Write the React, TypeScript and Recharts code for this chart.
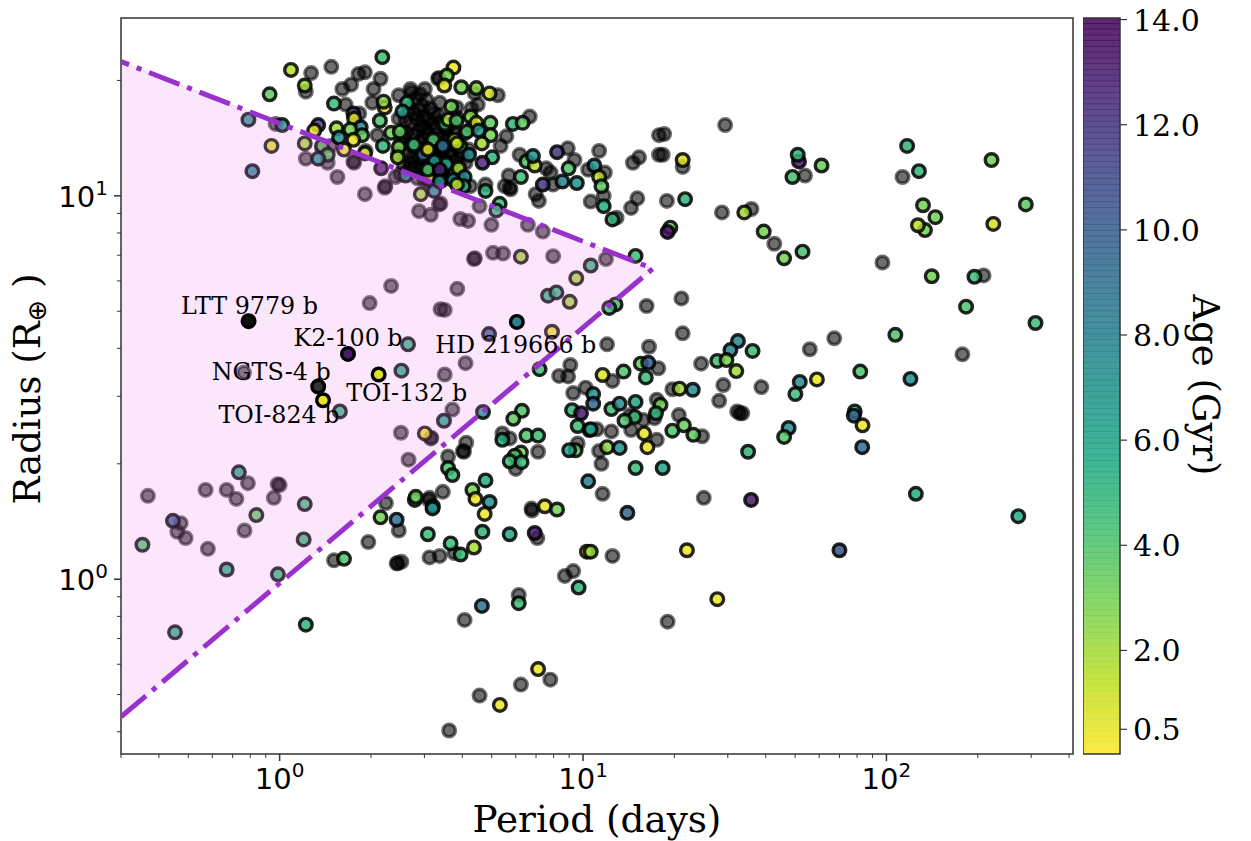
import React from "react";
import {
  Area,
  ComposedChart,
  Line,
  ReferenceArea,
  Scatter,
  XAxis,
  YAxis,
} from "recharts";

// planets without an age estimate, drawn grey
const grayPeriods = [
  1.27, 1.48, 1.82, 1.91, 1.72, 1.61, 2.15, 2.04, 1.22, 2.02,
  2.47, 2.7, 3.01, 3.33, 1.65, 1.83, 2.47, 2.1, 0.97, 1.22,
  1.44, 1.55, 1.91, 2.22, 2.23, 2.41, 2.5, 2.88, 3.15, 3.35,
  1.92, 1.38, 1.47, 1.75, 1.76, 3.35, 3.37, 3.83, 4.5, 4.29,
  4.4, 5.24, 5.59, 5.35, 6.67, 6.18, 5.69, 5.52, 5.73, 5.77,
  4.77, 4.25, 7.56, 7.82, 7.97, 8.91, 9.37, 10.4, 11.3, 11.8,
  14.6, 15.3, 17.8, 17.8, 6.98, 7.15, 10.6, 11.7, 14.4, 15.1,
  12.9, 3.94, 4.18, 4.56, 4.99, 6.58, 7.37, 4.37, 4.4, 5.05,
  5.45, 7.97, 11.9, 3.39, 18.5, 29.4, 18.3, 21.3, 53.9, 113,
  18.9, 28.7, 35.9, 42.7, 97, 209, 21.1, 16.2, 21.3, 67.3,
  55.9, 178, 16.5, 17.7, 24.5, 29.0, 38.7, 19.7, 12.0, 9.08,
  8.34, 8.93, 12.5, 9.28, 10.2, 28.1, 17.5, 32.2, 32.9, 33.5,
  20.7, 14.3, 15.8, 14.4, 17.2, 12.4, 11.1, 17.5, 24.7, 5.42,
  5.73, 4.12, 4.02, 4.05, 7.11, 11.3, 9.6, 11.5, 6.0, 3.59,
  3.45, 11.6, 25.0, 3.12, 6.76, 3.85, 3.5, 4.1, 3.5, 3.71,
  3.16, 7.07, 6.79, 3.37, 3.12, 3.77, 12.5, 8.71, 9.28, 6.14,
  4.07, 19.0, 4.56, 6.24, 7.8, 3.62, 0.472, 0.46, 0.49, 0.58,
  0.766, 2.24, 2.47, 1.96, 1.51, 2.43, 2.52, 2.45, 3.1, 2.33,
  1.98, 3.39, 0.763, 2.51, 3.15, 2.66, 0.57, 0.669, 0.786, 0.72,
  0.957, 0.368, 1.0, 0.985,
  // dense clump around 3 days, read as a blob
  2.72, 2.8, 2.9, 2.95, 3.05, 3.14, 2.66, 2.78, 2.88, 3.0,
  3.1, 3.22, 3.35, 2.6, 2.72, 2.84, 2.93, 3.03, 3.15, 3.27,
  3.4, 3.52, 2.62, 2.76, 2.87, 2.97, 3.08, 3.18, 3.3, 3.43,
  3.6, 2.7, 2.83, 2.92, 3.02, 3.12, 3.24, 3.36, 3.5, 2.6,
  2.74, 2.88, 2.99, 3.1, 3.2, 3.33, 3.46, 2.8, 2.94, 3.06,
  3.2, 3.36, 2.66, 3.0, 3.12, 2.85, 3.28, 2.5, 2.45, 2.56,
  3.7, 3.8, 3.9, 3.7, 3.85, 4.05, 4.2, 4.3, 3.42, 3.55,
  3.68, 3.82, 3.96, 3.3, 3.5, 3.66, 3.18, 3.38, 3.6, 3.78,
  2.95, 3.1, 3.26, 3.44, 4.1, 3.95, 2.58, 2.7,
];
const grayRadii = [
  20.9, 21.7, 20.8, 21.0, 19.5, 19.0, 20.2, 19.0, 18.7, 17.5,
  18.3, 19.0, 19.0, 20.2, 17.3, 16.4, 15.9, 14.4, 15.4, 12.5,
  12.2, 11.2, 10.1, 10.5, 10.6, 11.2, 11.4, 9.12, 8.92, 9.5,
  13.1, 13.3, 13.5, 12.3, 12.2, 20.3, 17.5, 17.0, 17.3, 16.9,
  18.5, 18.3, 14.3, 13.5, 16.1, 12.8, 11.3, 10.6, 10.5, 10.4,
  10.7, 10.6, 11.8, 11.5, 10.7, 13.3, 12.4, 11.7, 13.1, 11.5,
  12.2, 12.6, 14.4, 12.8, 10.1, 9.7, 9.66, 10.0, 9.3, 9.85,
  8.77, 8.7, 8.6, 9.4, 8.4, 8.4, 8.07, 6.84, 6.87, 7.1,
  7.07, 6.96, 6.84, 9.55, 14.5, 15.3, 12.8, 11.9, 11.3, 11.2,
  9.7, 9.05, 9.24, 7.5, 6.7, 6.2, 5.4, 5.16, 4.38, 4.25,
  3.98, 3.86, 4.04, 3.55, 3.65, 3.21, 3.17, 3.13, 4.1, 3.62,
  3.39, 3.38, 3.29, 3.06, 3.16, 2.92, 2.94, 2.74, 2.71, 2.71,
  2.68, 2.68, 2.6, 2.45, 2.63, 2.43, 2.46, 2.31, 2.36, 2.4,
  2.33, 2.27, 2.16, 2.15, 2.15, 2.16, 2.26, 2.0, 1.94, 2.09,
  1.69, 1.67, 1.63, 1.63, 1.53, 5.72, 5.04, 3.66, 3.42, 2.77,
  2.34, 1.28, 1.51, 1.15, 1.14, 1.17, 1.15, 1.02, 1.05, 0.91,
  0.783, 0.775, 0.497, 0.531, 0.547, 0.403, 1.4, 1.33, 1.28, 1.2,
  1.34, 1.58, 1.34, 1.25, 1.12, 1.1, 1.11, 1.1, 1.61, 5.82,
  5.25, 5.06, 3.46, 2.41, 2.33, 2.05, 1.71, 1.71, 1.78, 1.62,
  1.63, 1.65, 1.76, 1.77,
  18.6, 17.9, 18.4, 17.2, 17.8, 16.9, 16.9, 16.4, 16.7, 16.1,
  15.8, 16.4, 16.2, 15.7, 15.4, 15.9, 15.2, 15.0, 15.4, 15.1,
  15.6, 15.0, 14.6, 14.4, 14.8, 14.2, 14.5, 13.9, 14.4, 14.1,
  14.3, 13.6, 13.3, 13.8, 13.4, 13.1, 13.6, 13.0, 13.4, 12.8,
  12.6, 12.5, 12.9, 12.2, 12.7, 12.4, 12.6, 11.9, 11.7, 11.5,
  11.9, 11.7, 11.7, 11.0, 10.9, 11.1, 11.1, 13.7, 12.9, 11.9,
  12.8, 13.5, 12.0, 15.4, 16.0, 14.5, 13.2, 15.1, 11.4, 12.0,
  11.6, 12.4, 13.0, 12.6, 11.2, 13.0, 12.1, 12.2, 14.0, 14.6,
  12.0, 11.4, 11.6, 11.0, 12.2, 11.0, 14.2, 12.2,
];

// planets with an age, coloured through the colour bar
const agedPeriods = [
  2.18, 1.09, 1.21, 0.927, 1.51, 2.22, 2.2, 2.63, 2.54, 1.75,
  1.76, 2.14, 1.34, 1.3, 1.02, 0.789, 1.54, 1.85, 1.71, 1.57,
  1.87, 1.75, 2.33, 2.49, 2.19, 2.47, 2.77, 3.21, 2.97, 1.91,
  2.45, 1.63, 1.21, 1.38, 1.44, 1.34, 0.94, 0.813, 2.16, 2.6,
  3.09, 2.92, 3.23, 3.74, 3.56, 3.49, 3.97, 4.45, 4.92, 3.68,
  3.51, 3.6, 3.83, 4.26, 4.45, 4.95, 4.14, 4.53, 4.96, 5.87,
  6.32, 4.64, 3.94, 3.77, 3.84, 3.45, 3.08, 4.21, 5.02, 4.66,
  3.54, 3.24, 3.08, 3.37, 3.89, 4.07, 3.73, 4.04, 3.37, 3.84,
  4.77, 5.31, 5.18, 6.51, 6.93, 6.84, 8.21, 8.96, 6.24, 7.37,
  8.55, 9.54, 10.9, 11.3, 11.5, 11.7, 12.5, 14.9, 6.24, 10.6,
  21.3, 117, 51.5, 51.0, 61.1, 49.0, 128, 222, 21.7, 34.0,
  132, 288, 145, 225, 134, 127, 39.4, 19.4, 19.0, 46.0,
  52.9, 141, 195, 183, 310, 107, 36.2, 32.4, 30.6, 27.7,
  29.7, 32.0, 82, 120, 51.8, 59, 50.1, 15.5, 16.4, 16.1,
  20.8, 23.0, 12.8, 4.9, 7.9, 7.19, 4.68, 3.48, 6.29, 5.89,
  6.51, 7.11, 5.42, 11.6, 13.6, 10.8, 10.8, 9.2, 9.85, 12.4,
  13.2, 14.9, 18.0, 17.4, 14.8, 13.7, 9.6, 10.5, 10.6, 19.7,
  21.5, 23.1, 15.9, 16.3, 12.0, 13.2, 9.45, 9.0, 14.9, 18.3,
  10.4, 6.24, 5.96, 5.73, 6.27, 3.59, 3.71, 4.77, 4.32, 4.42,
  4.92, 4.74, 7.48, 8.21, 3.2, 35.8, 14.0, 22.0, 10.3, 10.6,
  6.93, 5.73, 4.66, 4.37, 3.66, 3.95, 9.67, 27.7, 4.64, 6.14,
  7.11, 5.32, 47.6, 46.0, 35.0, 78.6, 78.1, 83.4, 83.2, 125,
  272, 70, 0.445, 0.353, 0.838, 0.669, 1.2, 0.987, 1.21, 0.452,
  1.22, 2.15, 2.43, 2.79, 3.19, 3.08, 1.63, 2.65, 2.52, 1.58,
  0.734, 3.01, 2.81, 7.67, 8.17, 9.04, 9.5, 12.2,
];
const agedRadii = [
  23.0, 21.3, 19.4, 18.4, 17.4, 17.0, 17.6, 17.5, 16.6, 16.4,
  15.9, 15.7, 15.3, 14.8, 15.3, 15.8, 15.0, 15.1, 14.9, 14.2,
  14.4, 14.0, 14.6, 14.7, 13.5, 13.4, 13.6, 14.0, 12.8, 12.9,
  12.6, 13.2, 13.7, 13.5, 12.8, 12.5, 13.5, 11.6, 11.8, 11.3,
  11.1, 10.1, 10.3, 21.6, 20.6, 19.4, 19.2, 19.1, 18.5, 17.1,
  15.4, 15.8, 15.7, 16.1, 15.5, 15.5, 14.7, 14.8, 14.4, 15.4,
  15.5, 13.7, 13.5, 14.0, 13.7, 13.5, 13.2, 12.8, 12.6, 12.2,
  12.1, 12.3, 11.7, 11.7, 11.8, 11.2, 11.0, 10.6, 10.9, 10.7,
  10.3, 9.53, 9.16, 12.3, 12.0, 12.7, 13.0, 11.8, 11.2, 10.7,
  10.9, 10.8, 12.0, 11.2, 10.6, 9.4, 8.68, 6.97, 6.94, 6.58,
  12.4, 13.5, 12.3, 12.8, 12.0, 11.2, 11.6, 12.4, 9.8, 9.05,
  9.45, 9.5, 8.8, 8.45, 8.14, 8.38, 8.07, 8.26, 8.05, 6.87,
  7.15, 6.17, 6.15, 5.14, 4.66, 4.34, 3.94, 4.18, 3.96, 3.71,
  3.73, 3.49, 3.48, 3.33, 3.27, 3.32, 3.04, 3.65, 3.67, 3.36,
  3.14, 3.12, 5.21, 4.36, 4.42, 3.53, 2.73, 2.59, 2.75, 2.62,
  2.37, 2.37, 2.31, 3.41, 3.48, 3.04, 2.87, 2.76, 2.71, 2.78,
  2.87, 2.9, 2.85, 2.71, 2.65, 2.59, 2.51, 2.45, 2.46, 2.44,
  2.52, 2.38, 2.4, 2.21, 2.21, 2.2, 2.17, 2.17, 1.95, 1.95,
  1.8, 2.14, 2.1, 2.03, 2.02, 1.95, 1.87, 1.81, 1.71, 1.62,
  1.59, 1.48, 1.55, 1.52, 1.55, 1.61, 1.49, 1.19, 1.18, 1.18,
  1.32, 1.31, 1.33, 1.21, 1.24, 1.16, 0.951, 0.887, 0.852, 0.866,
  0.583, 0.47, 2.48, 2.35, 2.15, 2.74, 2.67, 2.52, 2.21, 1.67,
  1.46, 1.19, 1.42, 1.23, 1.47, 1.06, 1.27, 1.03, 1.57, 0.727,
  0.761, 1.45, 1.43, 1.61, 1.53, 1.31, 1.13, 4.1, 3.5, 2.74,
  1.9, 2.4, 1.64, 5.49, 5.6, 5.29, 6.1, 5.1,
];
const agedAges = [
  4.5, 1.5, 2, 3.5, 4.5, 0.6, 2.5, 5, 6.5, 11.5,
  0.7, 4, 11.5, 0.5, 7, 7, 2, 8, 3, 7,
  3.5, 0.5, 3, 3.5, 5, 3, 4.5, 4, 9.5, 0.8,
  2, 0.5, 2, 3.5, 3.5, 7, 0.8, 8, 13, 8,
  0.5, 2, 8, 0.4, 3, 0.7, 3, 2.5, 0.9, 3,
  5, 1.8, 4, 2.7, 1, 3.5, 4, 7, 3, 5,
  3.5, 2, 4.5, 0.8, 1.3, 9, 0.8, 7.5, 5, 12.5,
  5.5, 6.5, 4, 12.5, 2, 8, 7.5, 5, 7, 1.5,
  5, 4.5, 5, 4, 1.5, 7, 12, 4, 4.5, 12,
  8, 7, 7, 1.5, 3.5, 5.5, 5, 4.5, 2, 5,
  0.7, 5, 13, 4.8, 3.3, 4.3, 5, 3, 5, 2,
  3, 3.7, 3, 1, 3, 1.3, 3, 3, 13.5, 3,
  4.2, 3, 4.5, 4, 4.5, 4, 4.5, 8, 8, 4.5,
  3, 2, 4, 7.5, 7.5, 0.4, 4.5, 3.5, 10, 4.5,
  2, 7.5, 4.3, 10, 0.5, 4.5, 7, 6, 4, 3.5,
  4, 4.5, 5.5, 0.8, 4, 7, 9.5, 5, 13, 4.5,
  7.5, 6, 3, 5, 4.5, 4, 4.5, 6.5, 6, 4,
  3.3, 3.5, 0.5, 0.5, 2.5, 7, 3.5, 6, 4.5, 6,
  8, 3, 4, 4.5, 4.5, 4, 4.5, 5.5, 3, 0.4,
  7, 0.4, 0.5, 3, 7, 13, 9.5, 0.4, 0.6, 2.3,
  13, 6, 5, 1.8, 4.5, 4.5, 5, 0.4, 9, 4.5,
  0.4, 0.4, 7.5, 3.8, 5, 5, 9.5, 0.4, 9, 5.5,
  5.5, 10.5, 10, 4, 3.5, 5.5, 5, 5, 4.5, 5.5,
  5, 3, 9, 4, 7, 4.5, 4, 5, 5.5, 5,
  6, 0.5, 3, 5, 5, 2, 2, 4.3,
];

const namedLabels = ["LTT 9779 b", "K2-100 b", "NGTS-4 b", "TOI-132 b", "TOI-824 b", "HD 219666 b"];
const namedPeriods = [0.79, 1.68, 1.34, 2.12, 1.39, 6.05];
const namedRadii = [4.71, 3.87, 3.18, 3.42, 2.93, 4.69];
const namedAges = [null, 13, null, 0.8, 0.5, 8];
// label placement relative to each planet, in pixels
const namedLabelShift = [[1, -7], [0, -8], [-47, -7], [28, 27], [-44, 23], [-1, 31]];
const namedNoAgeFill = ["#111111", "", "#333333", "", "", ""];

// edges of the Neptune desert wedge
const desertPeriods = [0.3, 17.0];
const desertUpper = [22.4, 6.46];
const desertLower = [0.4375, 6.46];

const xTicks = [0.3, 0.4, 0.5, 0.6, 0.7, 0.8, 0.9, 1, 2, 3, 4, 5, 6, 7, 8, 9, 10, 20, 30, 40, 50, 60, 70, 80, 90, 100, 200, 300, 400];
const yTicks = [0.4, 0.5, 0.6, 0.7, 0.8, 0.9, 1, 2, 3, 4, 5, 6, 7, 8, 9, 10, 20];
const ageTicks = [0.5, 2, 4, 6, 8, 10, 12, 14];

const X_DOMAIN: [number, number] = [0.3, 412];
const Y_DOMAIN: [number, number] = [0.35, 29.1];
const AGE_DOMAIN: [number, number] = [0.03, 14.03];

const SERIF = "'DejaVu Serif', serif";
const SANS = "'DejaVu Sans', sans-serif";
const INK = "#333333";

// viridis, reversed so that young is yellow
const viridis = ["#440154", "#482475", "#414487", "#355f8d", "#2a788e", "#21918c", "#22a884", "#44bf70", "#7ad151", "#bddf26", "#fde725"];

function ageColor(age: number) {
  const t = 1 - (age - AGE_DOMAIN[0]) / (AGE_DOMAIN[1] - AGE_DOMAIN[0]);
  const pos = Math.min(Math.max(t, 0), 1) * (viridis.length - 1);
  const i = Math.min(Math.floor(pos), viridis.length - 2);
  const f = pos - i;
  const a = parseInt(viridis[i].slice(1), 16);
  const b = parseInt(viridis[i + 1].slice(1), 16);
  const mix = (s: number) => Math.round(((a >> s) & 255) * (1 - f) + ((b >> s) & 255) * f);
  return `rgb(${mix(16)},${mix(8)},${mix(0)})`;
}

const grayData = grayPeriods.map((p, i) => ({ p, r: grayRadii[i] }));
const agedData = agedPeriods.map((p, i) => ({ p, r: agedRadii[i], fill: ageColor(agedAges[i]) }));
const namedData = namedPeriods.map((p, i) => {
  const age = namedAges[i];
  return {
    p,
    r: namedRadii[i],
    fill: age === null ? namedNoAgeFill[i] : ageColor(age),
    label: namedLabels[i],
    shift: namedLabelShift[i],
  };
});
const upperData = desertPeriods.map((p, i) => ({ p, r: desertUpper[i] }));
const lowerData = desertPeriods.map((p, i) => ({ p, r: desertLower[i] }));
const wedgeData = desertPeriods.map((p, i) => ({ p, band: [desertLower[i], desertUpper[i]] }));

const BAR_STEPS = 128;
const barSteps = Array.from({ length: BAR_STEPS }, (_, i) => {
  const span = AGE_DOMAIN[1] - AGE_DOMAIN[0];
  const lo = AGE_DOMAIN[0] + (span * i) / BAR_STEPS;
  return { lo, hi: lo + (span * 1.12) / BAR_STEPS };
});

const GrayDot = (props: any) => (
  <circle cx={props.cx} cy={props.cy} r={6.3} fill="#000" fillOpacity={0.57} stroke="#000" strokeOpacity={0.57} strokeWidth={3.4} />
);

const AgedDot = (props: any) => (
  <circle cx={props.cx} cy={props.cy} r={6.3} fill={props.payload.fill} fillOpacity={0.85} stroke="#000" strokeOpacity={0.85} strokeWidth={3.4} />
);

const NamedDot = (props: any) => {
  const { cx, cy, payload } = props;
  return (
    <g>
      <circle cx={cx} cy={cy} r={6.3} fill={payload.fill} stroke="#000" strokeWidth={3.4} />
      <text x={cx + payload.shift[0]} y={cy + payload.shift[1]} textAnchor="middle" fontFamily={SERIF} fontSize={23.8} fill="#000">
        {payload.label}
      </text>
    </g>
  );
};

function XTick({ x, y, payload }: any) {
  const major = [1, 10, 100].includes(payload.value);
  return (
    <g>
      <line x1={x} x2={x} y1={y} y2={y + (major ? 7 : 4)} stroke={INK} strokeWidth={major ? 1.5 : 1} />
      {major && (
        <text x={x} y={y + 35} textAnchor="middle" fontFamily={SANS} fontSize={29} fill="#000">
          10
          <tspan dy={-12} fontSize={20}>{Math.log10(payload.value)}</tspan>
        </text>
      )}
    </g>
  );
}

function YTick({ x, y, payload }: any) {
  const major = [1, 10].includes(payload.value);
  return (
    <g>
      <line x1={x} x2={x - (major ? 7 : 4)} y1={y} y2={y} stroke={INK} strokeWidth={major ? 1.5 : 1} />
      {major && (
        <text x={x - 13} y={y + 11} textAnchor="end" fontFamily={SANS} fontSize={29} fill="#000">
          10
          <tspan dy={-12} fontSize={20}>{Math.log10(payload.value)}</tspan>
        </text>
      )}
    </g>
  );
}

function AgeTick({ x, y, payload }: any) {
  return (
    <g>
      <line x1={x} x2={x + 7} y1={y} y2={y} stroke={INK} strokeWidth={1.2} />
      <text x={x + 13} y={y + 11} fontFamily={SERIF} fontSize={30} fill="#000">
        {payload.value.toFixed(1)}
      </text>
    </g>
  );
}

const RadiusTitle = () => (
  <text transform="translate(40,389) rotate(-90)" textAnchor="middle" fontFamily={SERIF} fontSize={37} fill="#000">
    Radius (R
    <tspan dy={6} fontFamily={SANS} fontSize={26}>⊕</tspan>
    <tspan dy={-6}> )</tspan>
  </text>
);

const PeriodTitle = () => (
  <text x={597} y={832} textAnchor="middle" fontFamily={SERIF} fontSize={37.3} fill="#000">
    Period (days)
  </text>
);

const AgeTitle = () => (
  <text transform="translate(110,385) rotate(90)" textAnchor="middle" fontFamily={SERIF} fontSize={37} fill="#000">
    Age (Gyr)
  </text>
);

export default function App() {
  return (
    <div style={{ position: "absolute", left: 0, top: 0, width: 1251, height: 841, background: "#fff" }}>
      {/* the points sit under the translucent wedge, so they need their own layer */}
      <div style={{ position: "absolute", left: 0, top: 0 }}>
        <ComposedChart width={1083} height={841} margin={{ top: 18, right: 10, bottom: 27, left: 61 }}>
          <XAxis
            dataKey="p"
            type="number"
            scale="log"
            domain={X_DOMAIN}
            ticks={xTicks}
            interval={0}
            allowDataOverflow
            axisLine={false}
            tickLine={false}
            tickSize={0}
            tickMargin={0}
            height={60}
            tick={XTick}
            label={PeriodTitle}
          />
          <YAxis
            dataKey="r"
            type="number"
            scale="log"
            domain={Y_DOMAIN}
            ticks={yTicks}
            interval={0}
            allowDataOverflow
            axisLine={false}
            tickLine={false}
            tickSize={0}
            tickMargin={0}
            width={60}
            tick={YTick}
            label={RadiusTitle}
          />
          <Scatter data={grayData} shape={GrayDot} isAnimationActive={false} />
          <Scatter data={agedData} shape={AgedDot} isAnimationActive={false} />
        </ComposedChart>
      </div>
      <div style={{ position: "absolute", left: 0, top: 0 }}>
        <ComposedChart width={1083} height={841} margin={{ top: 18, right: 10, bottom: 87, left: 121 }}>
          <XAxis dataKey="p" type="number" scale="log" domain={X_DOMAIN} allowDataOverflow hide />
          <YAxis dataKey="r" type="number" scale="log" domain={Y_DOMAIN} allowDataOverflow hide />
          <Area data={wedgeData} dataKey="band" type="linear" fill="#ee82ee" fillOpacity={0.2} stroke="#ee82ee" strokeOpacity={0.2} dot={false} activeDot={false} isAnimationActive={false} />
          <Line data={upperData} dataKey="r" type="linear" stroke="#9932cc" strokeWidth={5} strokeDasharray="32.6 8.2 5.1 8.2" strokeDashoffset={24} dot={false} activeDot={false} isAnimationActive={false} />
          <Line data={lowerData} dataKey="r" type="linear" stroke="#9932cc" strokeWidth={5} strokeDasharray="32.6 8.2 5.1 8.2" dot={false} activeDot={false} isAnimationActive={false} />
          <Scatter data={namedData} shape={NamedDot} isAnimationActive={false} />
          <ReferenceArea x1={X_DOMAIN[0]} x2={X_DOMAIN[1]} y1={Y_DOMAIN[0]} y2={Y_DOMAIN[1]} fill="none" stroke={INK} strokeWidth={1.5} ifOverflow="visible" />
        </ComposedChart>
      </div>
      <div style={{ position: "absolute", left: 1083, top: 0 }}>
        <ComposedChart width={168} height={841} margin={{ top: 18, right: 0, bottom: 87, left: 0 }}>
          <XAxis type="number" dataKey="x" domain={[0, 1]} allowDataOverflow hide />
          <YAxis
            orientation="right"
            type="number"
            domain={AGE_DOMAIN}
            ticks={ageTicks}
            interval={0}
            allowDataOverflow
            axisLine={false}
            tickLine={false}
            tickSize={0}
            tickMargin={0}
            width={131}
            tick={AgeTick}
            label={AgeTitle}
          />
          {barSteps.map((s) => (
            <ReferenceArea key={s.lo} x1={0} x2={1} y1={s.lo} y2={Math.min(s.hi, AGE_DOMAIN[1])} fill={ageColor((s.lo + s.hi) / 2)} fillOpacity={0.86} stroke="none" ifOverflow="visible" />
          ))}
          <ReferenceArea x1={0} x2={1} y1={AGE_DOMAIN[0]} y2={AGE_DOMAIN[1]} fill="none" stroke={INK} strokeWidth={1.5} ifOverflow="visible" />
        </ComposedChart>
      </div>
    </div>
  );
}
